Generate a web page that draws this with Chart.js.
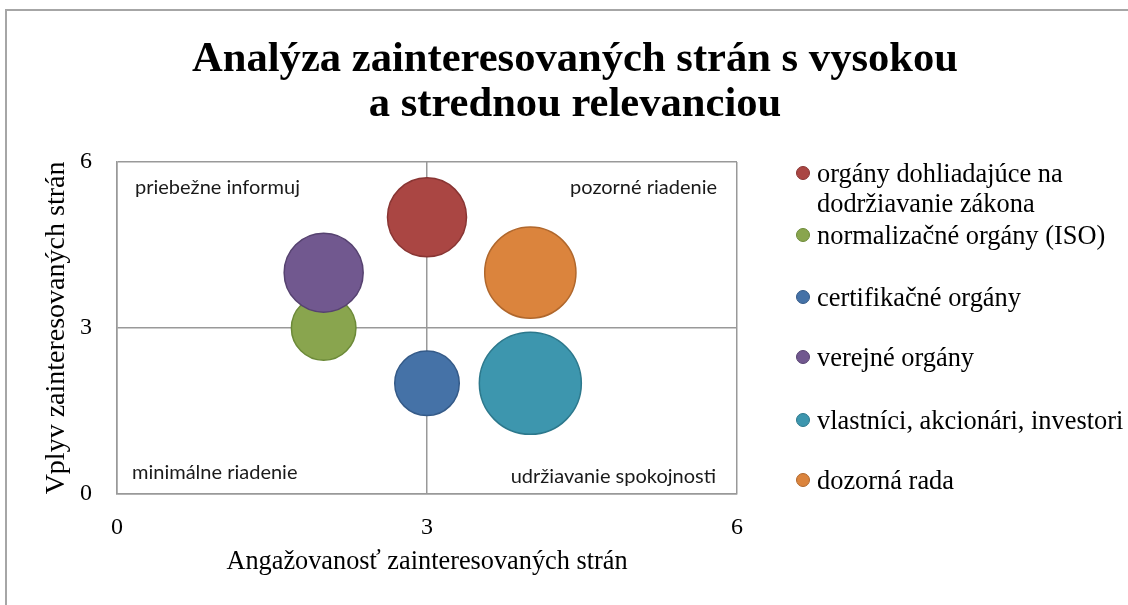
<!DOCTYPE html>
<html>
<head>
<meta charset="utf-8">
<script src="https://cdn.jsdelivr.net/npm/chart.js@4"></script>
<style>
  html, body { margin: 0; padding: 0; background: #fff; }
  #wrap { position: relative; width: 1128px; height: 605px; overflow: hidden; }
  #frame { position: absolute; left: 5px; top: 9px; width: 1200px; height: 700px;
           border-left: 2px solid #a6a6a6; border-top: 2px solid #a6a6a6; }
  canvas { position: absolute; left: 0; top: 0; }
  #legend { position: absolute; left: 0; top: 0; font-family: 'Liberation Serif', 'Times New Roman', serif;
            font-size: 26.4px; color: #000; }
  .li { position: absolute; left: 817px; line-height: 30px; white-space: nowrap; }
  .mk { position: absolute; width: 12px; height: 12px; border-radius: 50%; border-width: 1.5px; border-style: solid; }
</style>
</head>
<body>
<div id="wrap">
  <div id="frame"></div>
  <canvas id="c" width="1128" height="605"></canvas>
  <div id="legend"></div>
</div>
<script>
// ---- data ----
const seriesNames = [
  'orgány dohliadajúce na dodržiavanie zákona',
  'normalizačné orgány (ISO)',
  'certifikačné orgány',
  'verejné orgány',
  'vlastníci, akcionári, investori',
  'dozorná rada'
];
const engagement = [3, 2, 3, 2, 4, 4];   // x
const influence  = [5, 3, 2, 4, 2, 4];   // y
const bubbleSize = [3, 2, 2, 3, 5, 4];
const axisTicks  = [0, 3, 6];
const quadrantLabels = ['priebežne informuj', 'pozorné riadenie', 'minimálne riadenie', 'udržiavanie spokojnosti'];
const titleLines = ['Analýza zainteresovaných strán s vysokou', 'a strednou relevanciou'];
const xTitle = 'Angažovanosť zainteresovaných strán';
const yTitle = 'Vplyv zainteresovaných strán';
const firstLegendLines = ['orgány dohliadajúce na', 'dodržiavanie zákona'];

// ---- styles ----
const fills   = ['#AA4643', '#89A54E', '#4572A7', '#71588F', '#3D96AE', '#DB843D'];
const borders = ['#893533', '#6C8A38', '#345A88', '#564270', '#2C788C', '#B0672C'];
const MAX_R = 51;
const legendCenters = [173, 235, 297, 357, 420, 480];
const serif = "'Liberation Serif', 'Times New Roman', serif";
const gridColor = '#999999';

const maxSize = Math.max(...bubbleSize);
const datasets = seriesNames.map((name, i) => ({
  label: name,
  data: [{ x: engagement[i], y: influence[i], r: MAX_R * Math.sqrt(bubbleSize[i] / maxSize) }],
  backgroundColor: fills[i],
  borderColor: borders[i],
  borderWidth: 1.5,
  order: seriesNames.length - i
}));

const quadPlugin = {
  id: 'quadrants',
  afterDatasetsDraw(chart) {
    const { ctx, chartArea: a } = chart;
    ctx.save();
    ctx.font = '20px Lato, "Open Sans", sans-serif';
    ctx.fillStyle = '#1a1a1a';
    ctx.textBaseline = 'middle';
    ctx.textAlign = 'left';
    ctx.fillText(quadrantLabels[0], a.left + 18, a.top + 26);
    ctx.fillText(quadrantLabels[2], a.left + 15, a.bottom - 21);
    ctx.textAlign = 'right';
    ctx.fillText(quadrantLabels[1], a.right - 20, a.top + 26);
    ctx.fillText(quadrantLabels[3], a.right - 21, a.bottom - 17);
    ctx.restore();
  }
};

new Chart(document.getElementById('c'), {
  type: 'bubble',
  data: { datasets },
  plugins: [quadPlugin],
  options: {
    responsive: false,
    animation: false,
    events: [],
    layout: { padding: { left: 22, right: 0, top: 0, bottom: 0 } },
    plugins: {
      legend: { display: false },
      tooltip: { enabled: false },
      title: {
        display: true,
        text: titleLines,
        color: '#000',
        font: { family: serif, size: 42.6, weight: 'bold', lineHeight: 1.05 },
        padding: { top: 38, bottom: 34.5 },
        align: 'center'
      }
    },
    scales: {
      x: {
        type: 'linear', min: axisTicks[0], max: axisTicks[axisTicks.length - 1],
        afterBuildTicks: s => { s.ticks = axisTicks.map(v => ({ value: v })); },
        afterFit: s => { s.height = 111; },
        grid: { color: gridColor, lineWidth: 1.5, drawTicks: false },
        border: { color: gridColor, width: 1.5 },
        ticks: { color: '#000', padding: 19, font: { family: serif, size: 24 }, maxRotation: 0 },
        title: { display: true, text: xTitle, color: '#000', font: { family: serif, size: 26.3 }, padding: { top: 0, bottom: 27 } }
      },
      y: {
        type: 'linear', min: axisTicks[0], max: axisTicks[axisTicks.length - 1],
        afterBuildTicks: s => { s.ticks = axisTicks.map(v => ({ value: v })); },
        afterFit: s => { s.width = 95; },
        grid: { color: gridColor, lineWidth: 1.5, drawTicks: false },
        border: { color: gridColor, width: 1.5 },
        ticks: { color: '#000', padding: 25, font: { family: serif, size: 24 } },
        title: { display: true, text: yTitle, color: '#000', font: { family: serif, size: 28 }, padding: { top: 18, bottom: 0 } }
      },
      legendSpace: {
        type: 'linear', position: 'right', display: true,
        afterFit: s => { s.width = 391; },
        grid: { display: false, drawTicks: false },
        border: { display: false },
        ticks: { display: false }
      }
    }
  }
});

// ---- legend (HTML, real text) ----
const lg = document.getElementById('legend');
seriesNames.forEach((name, i) => {
  const cy = legendCenters[i];
  const mk = document.createElement('div');
  mk.className = 'mk';
  mk.style.left = (803 - 7.5) + 'px';
  mk.style.top = (cy - 7.5) + 'px';
  mk.style.background = fills[i];
  mk.style.borderColor = borders[i];
  lg.appendChild(mk);
  const t = document.createElement('div');
  t.className = 'li';
  t.style.top = (cy - 15) + 'px';
  if (i === 0) {
    t.innerHTML = firstLegendLines[0] + '<br>' + firstLegendLines[1];
  } else {
    t.textContent = name;
  }
  lg.appendChild(t);
});
</script>
</body>
</html>
